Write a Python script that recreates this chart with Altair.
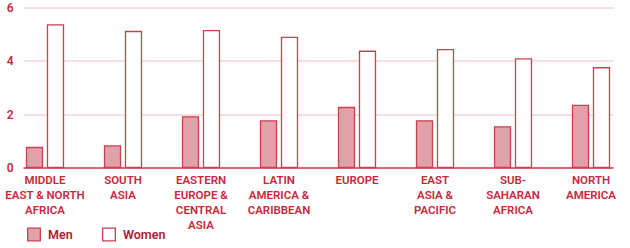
import altair as alt
import pandas as pd

regions = [
    "MIDDLE|EAST & NORTH|AFRICA",
    "SOUTH|ASIA",
    "EASTERN|EUROPE &|CENTRAL|ASIA",
    "LATIN|AMERICA &|CARIBBEAN",
    "EUROPE",
    "EAST|ASIA &|PACIFIC",
    "SUB-|SAHARAN|AFRICA",
    "NORTH|AMERICA",
]
men = [0.75, 0.81, 1.90, 1.75, 2.25, 1.75, 1.52, 2.33]
women = [5.35, 5.10, 5.13, 4.88, 4.36, 4.42, 4.07, 3.74]
sexes = ["Men", "Women"]

rows = []
for r, m, w in zip(regions, men, women):
    rows.append({"region": r, "sex": "Men", "value": m})
    rows.append({"region": r, "sex": "Women", "value": w})
df = pd.DataFrame(rows)

RED = "#c8283c"
STROKE = "#c9404f"
FONT = "Roboto"

chart = (
    alt.Chart(df)
    .mark_bar(stroke=STROKE, strokeWidth=1.3, strokeJoin="miter")
    .encode(
        x=alt.X(
            "region:N",
            sort=regions,
            title=None,
            scale=alt.Scale(paddingInner=0.526, paddingOuter=0.045),
            axis=alt.Axis(
                labelExpr="split(datum.value, '|')",
                labelAngle=0,
                labelPadding=7,
                labelLineHeight=15,
                labelFont=FONT,
                labelFontSize=11.5,
                labelFontWeight=600,
                labelColor=RED,
                ticks=False,
                domain=True,
                domainColor=STROKE,
                domainWidth=1.5,
                grid=False,
            ),
        ),
        xOffset=alt.XOffset(
            "sex:N", sort=sexes, scale=alt.Scale(paddingInner=0.238, paddingOuter=0)
        ),
        y=alt.Y(
            "value:Q",
            title=None,
            scale=alt.Scale(domain=[0, 6], nice=False),
            axis=alt.Axis(
                values=[0, 2, 4, 6],
                labelFont=FONT,
                labelFontSize=12,
                labelFontWeight=600,
                labelColor=RED,
                labelPadding=10,
                ticks=False,
                domain=False,
                grid=True,
                gridColor="#ecc0c5",
                gridWidth=1,
            ),
        ),
        fill=alt.Fill(
            "sex:N",
            sort=sexes,
            title=None,
            scale=alt.Scale(domain=sexes, range=["#e2a0a8", "#ffffff"]),
            legend=alt.Legend(
                orient="none",
                legendX=4,
                legendY=220,
                direction="horizontal",
                symbolType="square",
                symbolSize=160,
                symbolStrokeColor=STROKE,
                symbolStrokeWidth=1.3,
                labelFont=FONT,
                labelFontSize=12.5,
                labelFontWeight=600,
                labelColor="#a8203a",
                labelOffset=7,
                columnPadding=27,
            ),
        ),
    )
    .properties(
        width=590,
        height=160,
        autosize=alt.AutoSizeParams(type="none"),
        padding={"left": 23, "top": 7.5, "right": 17, "bottom": 80.5},
        background="white",
    )
    .configure_view(stroke=None)
)

chart.save("out.html", embed_options={"renderer": "svg", "actions": False})
